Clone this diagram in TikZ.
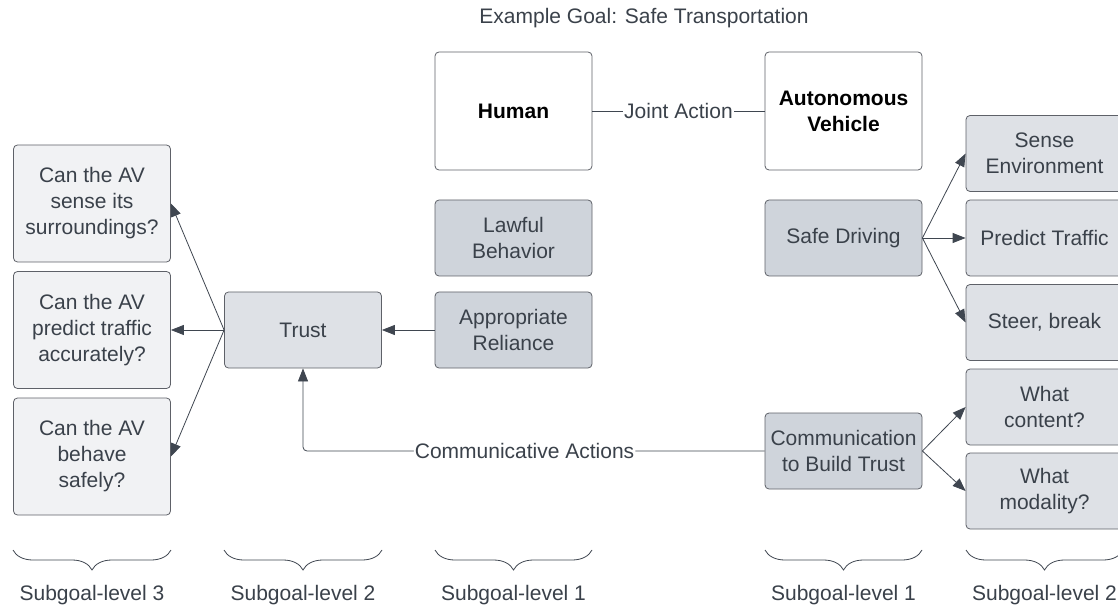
\documentclass[tikz,border=0pt]{standalone}
\usepackage{fontspec}
\setmainfont{Liberation Sans}
\usetikzlibrary{positioning, arrows.meta, decorations.pathreplacing}

\definecolor{boxline}{HTML}{5E6168}
\definecolor{arrowline}{HTML}{3F4650}
\definecolor{inktext}{HTML}{3A414A}
\definecolor{palefill}{HTML}{F1F2F4}
\definecolor{midfill}{HTML}{DEE1E6}
\definecolor{darkfill}{HTML}{CFD4DB}

\tikzset{
  goal/.style={draw=boxline, line width=0.8pt, rounded corners=4pt,
    minimum width=157pt, minimum height=76pt, inner sep=2pt, align=center,
    text=inktext, font=\fontsize{21}{26}\selectfont},
  actor/.style={goal, fill=white, minimum height=118pt, text=black,
    font=\fontsize{21}{26}\selectfont\bfseries},
  pale/.style={goal, fill=palefill},
  mid/.style={goal, fill=midfill},
  dark/.style={goal, fill=darkfill},
  tall/.style={pale, minimum height=117pt},
  lbl/.style={fill=white, inner sep=1pt, text=inktext,
    font=\fontsize{21}{26}\selectfont},
  brc/.style={draw=arrowline, line width=0.8pt,
    decorate, decoration={brace, amplitude=20pt}}
}

\begin{document}
\begin{tikzpicture}[x=1pt, y=-1pt, on grid,
    >={Triangle[length=13pt, width=10pt]}]
    \useasboundingbox (0,0) rectangle (1118,609);

    \node[lbl] (title) at (644,18) {Example Goal: Safe Transportation};

    % level 1
    \node[actor] (q_h) at (513.5,111) {Human};
    \node[actor] (q_v) at (843.5,111) {Autonomous\\Vehicle};
    \node[dark] (q_lb) [below =127pt of q_h] {Lawful\\Behavior};
    \node[dark] (q_ar) [below =92pt of q_lb] {Appropriate\\Reliance};
    \node[dark] (q_sd) [below =127pt of q_v] {Safe Driving};
    \node[dark] (q_c) at (843.5,451) {Communication\\to Build Trust};

    % level 2
    \node[mid] (q_t) [left =210.5pt of q_ar] {Trust};
    \node[mid] (q_pt) [right =201pt of q_sd] {Predict Traffic};
    \node[mid] (q_se) [above =84.5pt of q_pt] {Sense\\Environment};
    \node[mid] (q_sb) [below =84.5pt of q_pt] {Steer, break};
    \node[mid] (q_wc) at (1044.5,407) {What\\content?};
    \node[mid] (q_wm) [below =84pt of q_wc] {What\\modality?};

    % level 3
    \node[tall] (q_s2) [left =211pt of q_t] {Can the AV\\predict traffic\\accurately?};
    \node[tall] (q_s1) [above =126.5pt of q_s2] {Can the AV\\sense its\\surroundings?};
    \node[tall] (q_s3) [below =126.5pt of q_s2] {Can the AV\\behave\\safely?};

    \path[color=arrowline, line width=0.8pt]
    (q_h) edge node[lbl] {Joint Action} (q_v);

    \path[->, color=arrowline, line width=0.8pt]
    (q_ar) edge (q_t)
    (q_t.west) edge (q_s1.east)
    (q_t.west) edge (q_s2.east)
    (q_t.west) edge (q_s3.east)
    (q_sd.east) edge (q_se.west)
    (q_sd.east) edge (q_pt.west)
    (q_sd.east) edge (q_sb.west)
    (q_c.east) edge (q_wc.west)
    (q_c.east) edge (q_wm.west)
    ;
    \draw[->, color=arrowline, line width=0.8pt, rounded corners=4pt] (q_c.west)
      -- node[lbl, pos=0.52] {Communicative Actions} (q_t |- q_c.west)
      -- (q_t.south);

    % braces
    \draw[brc] (171,550) -- (13,550);
    \draw[brc] (382,550) -- (224,550);
    \draw[brc] (592,550) -- (435,550);
    \draw[brc] (922,550) -- (765,550);
    \draw[brc] (1123,550) -- (966,550);
    \node[lbl] (b_3) at (92,595) {Subgoal-level 3};
    \node[lbl] (b_2) at (303,595) {Subgoal-level 2};
    \node[lbl] (b_1) at (513.5,595) {Subgoal-level 1};
    \node[lbl] (b_1v) at (843.5,595) {Subgoal-level 1};
    \node[lbl] (b_2v) at (1044.5,595) {Subgoal-level 2};
\end{tikzpicture}
\end{document}
